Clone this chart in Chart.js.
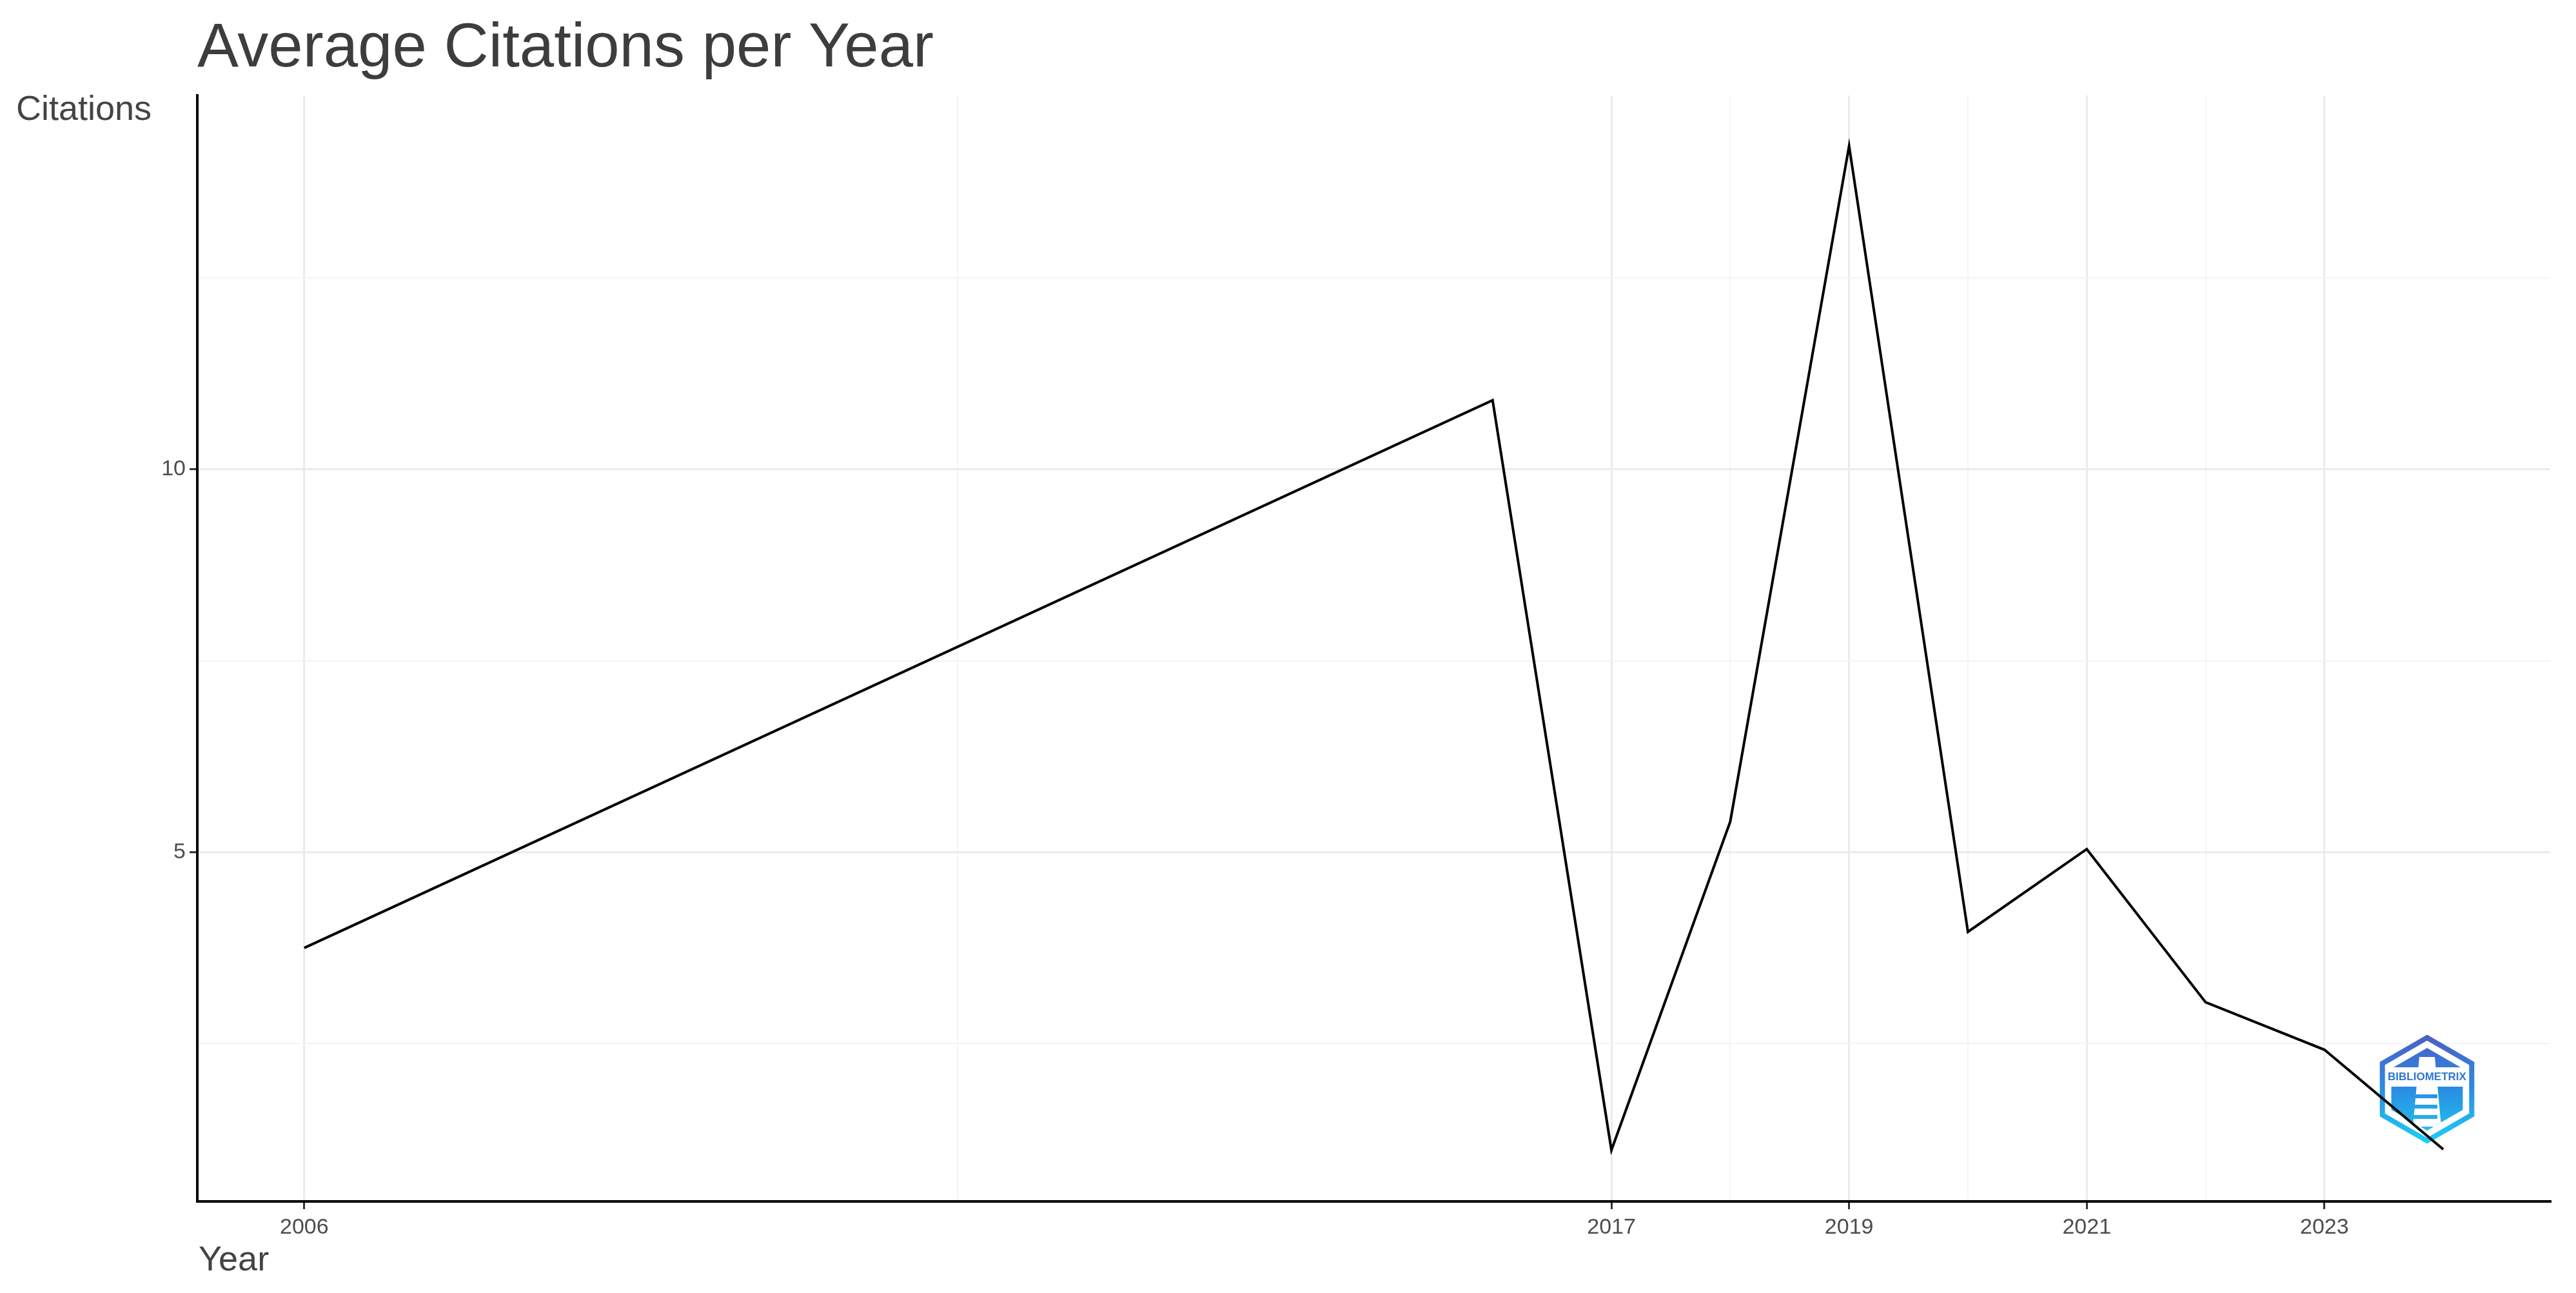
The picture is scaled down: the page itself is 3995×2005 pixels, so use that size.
<!DOCTYPE html>
<html>
<head>
<meta charset="utf-8">
<script src="https://cdn.jsdelivr.net/npm/chart.js@4.4.1/dist/chart.umd.min.js"></script>
<style>
  body { margin: 0; background: #fff; }
  #wrap { width: 3995px; height: 2005px; position: relative; }
</style>
</head>
<body>
<div id="wrap"><canvas id="citationsChart"></canvas></div>
<script>
// values
const years = [2006, 2016, 2017, 2018, 2019, 2020, 2021, 2022, 2023, 2024];
const citations = [3.75, 10.9, 1.11, 5.4, 14.22, 3.96, 5.04, 3.04, 2.42, 1.12];
const xTickLabels = [2006, 2017, 2019, 2021, 2023];
const xMinorBreaks = [2011.5, 2018, 2020, 2022];
const yTickLabels = [5, 10];
const yMinorBreaks = [2.5, 7.5, 12.5];

const FONT = '"Liberation Sans", Arial, sans-serif';

const isMajor = (list, v) => list.includes(v);

const gridOpts = (labels) => ({
    drawOnChartArea: true,
    color: ctx => (ctx.tick && isMajor(labels, ctx.tick.value)) ? '#ebebeb' : '#f4f4f4',
    lineWidth: ctx => (ctx.tick && isMajor(labels, ctx.tick.value)) ? 3 : 2,
    tickColor: ctx => (ctx.tick && isMajor(labels, ctx.tick.value)) ? '#333333' : 'rgba(0,0,0,0)',
    tickWidth: 3,
    tickLength: 12
});

function drawLogo(ctx, cx, cy) {
    const hex = r => {
        ctx.beginPath();
        for (let i = 0; i < 6; i++) {
            const a = (-90 + 60 * i) * Math.PI / 180;
            const px = cx + r * Math.cos(a), py = cy + r * Math.sin(a);
            i === 0 ? ctx.moveTo(px, py) : ctx.lineTo(px, py);
        }
        ctx.closePath();
    };
    const grad = ctx.createLinearGradient(0, cy - 84, 0, cy + 84);
    grad.addColorStop(0, '#4a5fc6');
    grad.addColorStop(0.5, '#2a8de2');
    grad.addColorStop(1, '#1dd0f6');

    ctx.save();
    hex(80);
    ctx.lineWidth = 8;
    ctx.strokeStyle = grad;
    ctx.stroke();
    hex(64);
    ctx.fillStyle = grad;
    ctx.fill();
    // white band for the name
    ctx.fillStyle = '#ffffff';
    ctx.fillRect(cx - 58, cy - 34, 116, 30);
    // tower
    ctx.beginPath();
    ctx.moveTo(cx - 12, cy - 50);
    ctx.lineTo(cx + 12, cy - 50);
    ctx.lineTo(cx + 22, cy + 58);
    ctx.lineTo(cx - 22, cy + 58);
    ctx.closePath();
    ctx.fill();
    ctx.fillStyle = grad;
    for (let k = 0; k < 3; k++) {
        ctx.fillRect(cx - 24, cy + 8 + k * 16, 40, 6);
    }
    ctx.fillStyle = '#2f78d6';
    ctx.font = 'bold 17px ' + FONT;
    ctx.textAlign = 'center';
    ctx.textBaseline = 'middle';
    ctx.fillText('BIBLIOMETRIX', cx, cy - 19);
    ctx.restore();
}

const textPlugin = {
    id: 'ggText',
    beforeDatasetsDraw(chart) {
        drawLogo(chart.ctx, 3764, 1689);
    },
    afterDraw(chart) {
        const ctx = chart.ctx;
        ctx.save();
        ctx.textBaseline = 'alphabetic';
        ctx.textAlign = 'left';
        ctx.fillStyle = '#3d3d3d';
        ctx.font = '96px ' + FONT;
        ctx.fillText('Average Citations per Year', 306, 103);
        ctx.fillStyle = '#444444';
        ctx.font = '54px ' + FONT;
        ctx.fillText('Citations', 25, 186);
        ctx.fillText('Year', 308, 1970);
        ctx.restore();
    }
};

const ctx = document.getElementById('citationsChart').getContext('2d');
new Chart(ctx, {
    type: 'line',
    data: {
        datasets: [{
            label: 'Citations',
            data: years.map((y, i) => ({ x: y, y: citations[i] })),
            borderColor: '#000000',
            borderWidth: 4,
            pointRadius: 0,
            tension: 0,
            fill: false
        }]
    },
    options: {
        responsive: true,
        maintainAspectRatio: false,
        animation: false,
        layout: { padding: { top: 148, right: 40, left: 0, bottom: 0 } },
        plugins: {
            legend: { display: false },
            tooltip: { enabled: false },
            title: { display: false }
        },
        scales: {
            x: {
                type: 'linear',
                min: 2005.1,
                max: 2024.9,
                afterBuildTicks: scale => {
                    scale.ticks = [...xTickLabels, ...xMinorBreaks]
                        .sort((a, b) => a - b)
                        .map(v => ({ value: v }));
                },
                afterFit: scale => { scale.height = 142; },
                grid: gridOpts(xTickLabels),
                border: { display: true, color: '#000000', width: 4 },
                ticks: {
                    autoSkip: false,
                    maxRotation: 0,
                    padding: 8,
                    color: '#4d4d4d',
                    font: { family: FONT, size: 34 },
                    callback: v => xTickLabels.includes(v) ? String(v) : ''
                }
            },
            y: {
                type: 'linear',
                min: 0.44,
                max: 14.88,
                afterBuildTicks: scale => {
                    scale.ticks = [...yTickLabels, ...yMinorBreaks]
                        .sort((a, b) => a - b)
                        .map(v => ({ value: v }));
                },
                afterFit: scale => { scale.width = 306; },
                grid: gridOpts(yTickLabels),
                border: { display: true, color: '#000000', width: 4 },
                ticks: {
                    autoSkip: false,
                    padding: 6,
                    color: '#4d4d4d',
                    font: { family: FONT, size: 34 },
                    callback: v => yTickLabels.includes(v) ? String(v) : ''
                }
            }
        }
    },
    plugins: [textPlugin]
});
</script>
</body>
</html>
